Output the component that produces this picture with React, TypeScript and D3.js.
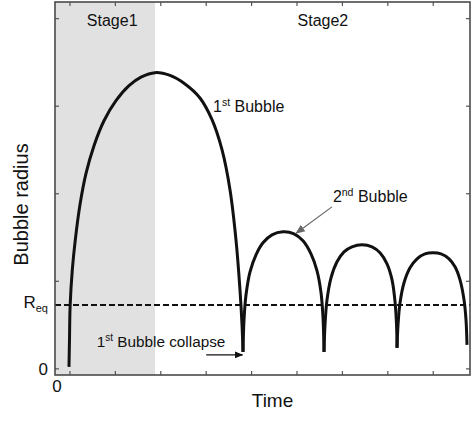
import * as d3 from "d3";

const WIDTH = 474;
const HEIGHT = 424;
const FONT = "Arial, 'Liberation Sans', sans-serif";

// bubble radius vs time (arbitrary units)
const bubble1T = [-0.022, -0.011, 0.004, 0.051, 0.117, 0.22, 0.352, 0.529, 0.749, 1.013, 1.3, 1.564, 1.872, 2.203, 2.533, 2.863, 3.128, 3.348, 3.524, 3.656, 3.744, 3.789, 3.811];
const bubble1R = [0.023, 0.331, 0.731, 1.131, 1.474, 1.874, 2.229, 2.549, 2.834, 3.063, 3.234, 3.331, 3.383, 3.351, 3.254, 3.094, 2.846, 2.503, 2.046, 1.474, 0.903, 0.503, 0.194];
const bubble2T = [3.811, 3.833, 3.877, 3.965, 4.097, 4.251, 4.449, 4.692, 4.934, 5.132, 5.308, 5.441, 5.529, 5.573, 5.595];
const bubble2R = [0.194, 0.56, 0.846, 1.109, 1.303, 1.44, 1.531, 1.566, 1.543, 1.463, 1.314, 1.12, 0.869, 0.583, 0.194];
const bubble3T = [5.595, 5.617, 5.661, 5.749, 5.881, 6.035, 6.211, 6.432, 6.652, 6.828, 6.982, 7.093, 7.159, 7.192, 7.203];
const bubble3R = [0.194, 0.503, 0.789, 1.04, 1.223, 1.337, 1.394, 1.417, 1.394, 1.326, 1.2, 1.017, 0.766, 0.503, 0.24];
const bubble4T = [7.203, 7.225, 7.269, 7.357, 7.489, 7.643, 7.819, 7.996, 8.172, 8.348, 8.48, 8.59, 8.678, 8.722, 8.744];
const bubble4R = [0.24, 0.503, 0.754, 0.983, 1.154, 1.257, 1.314, 1.326, 1.314, 1.257, 1.166, 1.017, 0.789, 0.56, 0.274];

const R_EQ = 0.73;
const STAGE1_END = 1.872;
const X_TICKS = [0, 1, 2, 3, 4, 5, 6, 7, 8];
const Y_TICKS = [0, 1, 2, 3, 4];

const bubbles = [
  [bubble1T, bubble1R],
  [bubble2T, bubble2R],
  [bubble3T, bubble3R],
  [bubble4T, bubble4R],
].map(([t, r]) => t.map((v, i) => [v, r[i]] as [number, number]));

const MARGIN = { top: 2, right: 4, bottom: 49, left: 55 };

export default function App() {
  const x0 = MARGIN.left;
  const x1 = WIDTH - MARGIN.right;
  const y0 = HEIGHT - MARGIN.bottom;
  const y1 = MARGIN.top;

  const xScale = d3.scaleLinear().domain([-0.33, 8.81]).range([x0, x1]);
  const yScale = d3.scaleLinear().domain([-0.07, 4.19]).range([y0, y1]);

  const line = d3
    .line<[number, number]>()
    .x((d) => xScale(d[0]))
    .y((d) => yScale(d[1]))
    .curve(d3.curveCatmullRom.alpha(0.5));

  const tickLen = 4;
  const tickColor = "#555";

  return (
    <div style={{ position: "absolute", left: 0, top: 0 }}>
      <svg width={WIDTH} height={HEIGHT} fontFamily={FONT}>
        <defs>
          <marker id="headBlack" viewBox="0 0 10 10" refX={9} refY={5} markerWidth={7} markerHeight={7} orient="auto">
            <path d="M0,1 L10,5 L0,9 Z" fill="#111" />
          </marker>
          <marker id="headGray" viewBox="0 0 10 10" refX={9} refY={5} markerWidth={8} markerHeight={8} orient="auto">
            <path d="M0,1 L10,5 L0,9 Z" fill="#666" />
          </marker>
        </defs>
        <rect width={WIDTH} height={HEIGHT} fill="white" />

        {/* stage 1 shading */}
        <rect
          x={x0}
          y={y1}
          width={xScale(STAGE1_END) - x0}
          height={y0 - y1}
          fill="#e1e1e1"
        />

        {/* ticks, inward on all four sides */}
        {X_TICKS.map((t) => (
          <g key={"x" + t} stroke={tickColor} strokeWidth={1.2}>
            <line x1={xScale(t)} x2={xScale(t)} y1={y0} y2={y0 - tickLen} />
            <line x1={xScale(t)} x2={xScale(t)} y1={y1} y2={y1 + tickLen} />
          </g>
        ))}
        {Y_TICKS.map((r) => (
          <g key={"y" + r} stroke={tickColor} strokeWidth={1.2}>
            <line x1={x0} x2={x0 + tickLen} y1={yScale(r)} y2={yScale(r)} />
            <line x1={x1} x2={x1 - tickLen} y1={yScale(r)} y2={yScale(r)} />
          </g>
        ))}

        {/* equilibrium radius */}
        <line
          x1={x0}
          x2={x1}
          y1={yScale(R_EQ)}
          y2={yScale(R_EQ)}
          stroke="#111"
          strokeWidth={2}
          strokeDasharray="6,3"
        />

        {bubbles.map((b, i) => (
          <path key={i} d={line(b) || ""} fill="none" stroke="#111" strokeWidth={3} strokeLinejoin="round" />
        ))}

        <rect
          x={x0}
          y={y1}
          width={x1 - x0}
          height={y0 - y1}
          fill="none"
          stroke="#4a4a4a"
          strokeWidth={1.6}
        />

        {/* labels */}
        <text x={xScale(0.93)} y={yScale(3.92)} textAnchor="middle" fontSize={16} fill="#111">
          Stage1
        </text>
        <text x={xScale(5.57)} y={yScale(3.92)} textAnchor="middle" fontSize={16} fill="#111">
          Stage2
        </text>
        <text x={xScale(3.15)} y={yScale(2.93)} fontSize={16} fill="#111">
          1<tspan fontSize={10.5} dy={-6}>st</tspan>
          <tspan dy={6}> Bubble</tspan>
        </text>
        <text x={xScale(5.79)} y={yScale(1.91)} fontSize={16} fill="#111">
          2<tspan fontSize={10.5} dy={-6}>nd</tspan>
          <tspan dy={6}> Bubble</tspan>
        </text>
        <line
          x1={xScale(5.77)}
          y1={yScale(1.85)}
          x2={xScale(4.98)}
          y2={yScale(1.55)}
          stroke="#666"
          strokeWidth={1.2}
          markerEnd="url(#headGray)"
        />
        <text x={xScale(0.59)} y={yScale(0.25)} fontSize={15.3} fill="#111">
          1<tspan fontSize={10} dy={-6}>st</tspan>
          <tspan dy={6}> Bubble collapse</tspan>
        </text>
        <line
          x1={xScale(3.0)}
          y1={yScale(0.16)}
          x2={xScale(3.8)}
          y2={yScale(0.16)}
          stroke="#111"
          strokeWidth={1.2}
          markerEnd="url(#headBlack)"
        />

        {/* axis labels */}
        <text x={48} y={yScale(0) + 6} textAnchor="end" fontSize={17} fill="#111">
          0
        </text>
        <text x={48} y={yScale(R_EQ) + 3} textAnchor="end" fontSize={17} fill="#111">
          R<tspan fontSize={11} dy={4}>eq</tspan>
        </text>
        <text x={57} y={392} textAnchor="middle" fontSize={17} fill="#111">
          0
        </text>
        <text x={(x0 + x1) / 2 + 10} y={407} textAnchor="middle" fontSize={19} fill="#111">
          Time
        </text>
        <text
          transform={`translate(28,${(y0 + y1) / 2 + 16}) rotate(-90)`}
          textAnchor="middle"
          fontSize={20}
          fill="#111"
        >
          Bubble radius
        </text>
      </svg>
    </div>
  );
}
